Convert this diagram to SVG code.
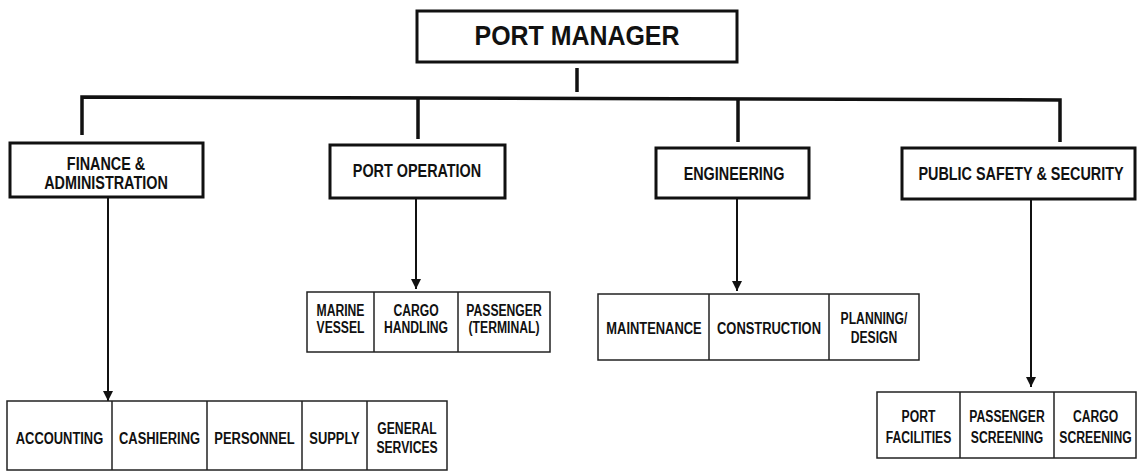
<svg xmlns="http://www.w3.org/2000/svg" width="1138" height="473" viewBox="0 0 1138 473">
<style>
text{font-family:"Liberation Sans",Arial,sans-serif;font-weight:bold;fill:#111;text-anchor:middle}
.top{font-size:28px}
.h{font-size:18px}
.s{font-size:17px}
.s2{font-size:16px}
.hb{fill:#fff;stroke:#111;stroke-width:3}
.sb{fill:#fff;stroke:#222;stroke-width:1.5}
.div{stroke:#222;stroke-width:1.5}
.conn{fill:none;stroke:#111;stroke-width:3.5}
.arr{fill:none;stroke:#111;stroke-width:2}
</style>
<defs>
<marker id="ah" markerUnits="userSpaceOnUse" markerWidth="10" markerHeight="10" viewBox="0 0 10 10" refX="5" refY="10" orient="auto">
<path d="M0,0 L10,5 L0,10 Z" fill="#111" transform="rotate(0)"/>
</marker>
<marker id="down" markerUnits="userSpaceOnUse" markerWidth="10" markerHeight="10" viewBox="0 0 10 10" refX="10" refY="5" orient="auto">
<path d="M0,0 L10,5 L0,10 Z" fill="#111"/>
</marker>
</defs>
<rect width="1138" height="473" fill="#fff"/>

<g id="connectors">
<line class="conn" x1="577" y1="68" x2="577" y2="92"/>
<polyline class="conn" points="82,135 82,97 1060,100 1060,142"/>
<line class="conn" x1="418" y1="98" x2="418" y2="139"/>
<line class="conn" x1="738" y1="99" x2="738" y2="142"/>
<path class="arr" d="M108,198 V401" marker-end="url(#down)"/>
<path class="arr" d="M416,198 V289" marker-end="url(#down)"/>
<path class="arr" d="M737,198 V291" marker-end="url(#down)"/>
<path class="arr" d="M1031,199 V387" marker-end="url(#down)"/>
</g>

<g id="port-manager">
<rect class="hb" x="417" y="11" width="320" height="51"/>
<text class="top" transform="translate(577,45) scale(0.89,1)">PORT MANAGER</text>
</g>

<g id="finance">
<rect class="hb" x="10" y="143" width="193" height="54"/>
<text class="h" transform="translate(106,169.5) scale(0.8,1)">FINANCE &amp;</text>
<text class="h" transform="translate(106,188.5) scale(0.8,1)">ADMINISTRATION</text>
</g>

<g id="port-operation">
<rect class="hb" x="330" y="145" width="175" height="53"/>
<text class="h" transform="translate(417,176.5) scale(0.8,1)">PORT OPERATION</text>
</g>

<g id="engineering">
<rect class="hb" x="656" y="148" width="153" height="50"/>
<text class="h" transform="translate(734,179.5) scale(0.8,1)">ENGINEERING</text>
</g>

<g id="public-safety">
<rect class="hb" x="902" y="148" width="233" height="51"/>
<text class="h" transform="translate(1021,179.5) scale(0.8,1)">PUBLIC SAFETY &amp; SECURITY</text>
</g>

<g id="finance-units">
<rect class="sb" x="7" y="401" width="440" height="69"/>
<line class="div" x1="112" y1="401" x2="112" y2="470"/>
<line class="div" x1="207" y1="401" x2="207" y2="470"/>
<line class="div" x1="302" y1="401" x2="302" y2="470"/>
<line class="div" x1="367" y1="401" x2="367" y2="470"/>
<text class="s" transform="translate(59.5,444) scale(0.76,1)">ACCOUNTING</text>
<text class="s" transform="translate(159.5,444) scale(0.76,1)">CASHIERING</text>
<text class="s" transform="translate(254.5,444) scale(0.76,1)">PERSONNEL</text>
<text class="s" transform="translate(334.5,444) scale(0.76,1)">SUPPLY</text>
<text class="s2" transform="translate(407,433.5) scale(0.76,1)">GENERAL</text>
<text class="s2" transform="translate(407,452.5) scale(0.76,1)">SERVICES</text>
</g>

<g id="port-operation-units">
<rect class="sb" x="307" y="292" width="243" height="60"/>
<line class="div" x1="374" y1="292" x2="374" y2="352"/>
<line class="div" x1="458" y1="292" x2="458" y2="352"/>
<text class="s2" transform="translate(340.5,315.7) scale(0.76,1)">MARINE</text>
<text class="s2" transform="translate(340.5,332.7) scale(0.76,1)">VESSEL</text>
<text class="s2" transform="translate(416,315.7) scale(0.76,1)">CARGO</text>
<text class="s2" transform="translate(416,332.7) scale(0.76,1)">HANDLING</text>
<text class="s2" transform="translate(504,315.7) scale(0.76,1)">PASSENGER</text>
<text class="s2" transform="translate(504,332.7) scale(0.76,1)">(TERMINAL)</text>
</g>

<g id="engineering-units">
<rect class="sb" x="598" y="294" width="321" height="66"/>
<line class="div" x1="709" y1="294" x2="709" y2="360"/>
<line class="div" x1="829" y1="294" x2="829" y2="360"/>
<text class="s" transform="translate(654,334) scale(0.76,1)">MAINTENANCE</text>
<text class="s" transform="translate(769,334) scale(0.76,1)">CONSTRUCTION</text>
<text class="s2" transform="translate(874,323.7) scale(0.76,1)">PLANNING/</text>
<text class="s2" transform="translate(874,342.7) scale(0.76,1)">DESIGN</text>
</g>

<g id="public-safety-units">
<rect class="sb" x="877" y="392" width="259" height="66"/>
<line class="div" x1="960" y1="392" x2="960" y2="458"/>
<line class="div" x1="1054" y1="392" x2="1054" y2="458"/>
<text class="s2" transform="translate(918.5,421.7) scale(0.76,1)">PORT</text>
<text class="s2" transform="translate(918.5,442.7) scale(0.76,1)">FACILITIES</text>
<text class="s2" transform="translate(1007,421.7) scale(0.76,1)">PASSENGER</text>
<text class="s2" transform="translate(1007,442.7) scale(0.76,1)">SCREENING</text>
<text class="s2" transform="translate(1095.5,421.7) scale(0.76,1)">CARGO</text>
<text class="s2" transform="translate(1095.5,442.7) scale(0.76,1)">SCREENING</text>
</g>
</svg>
